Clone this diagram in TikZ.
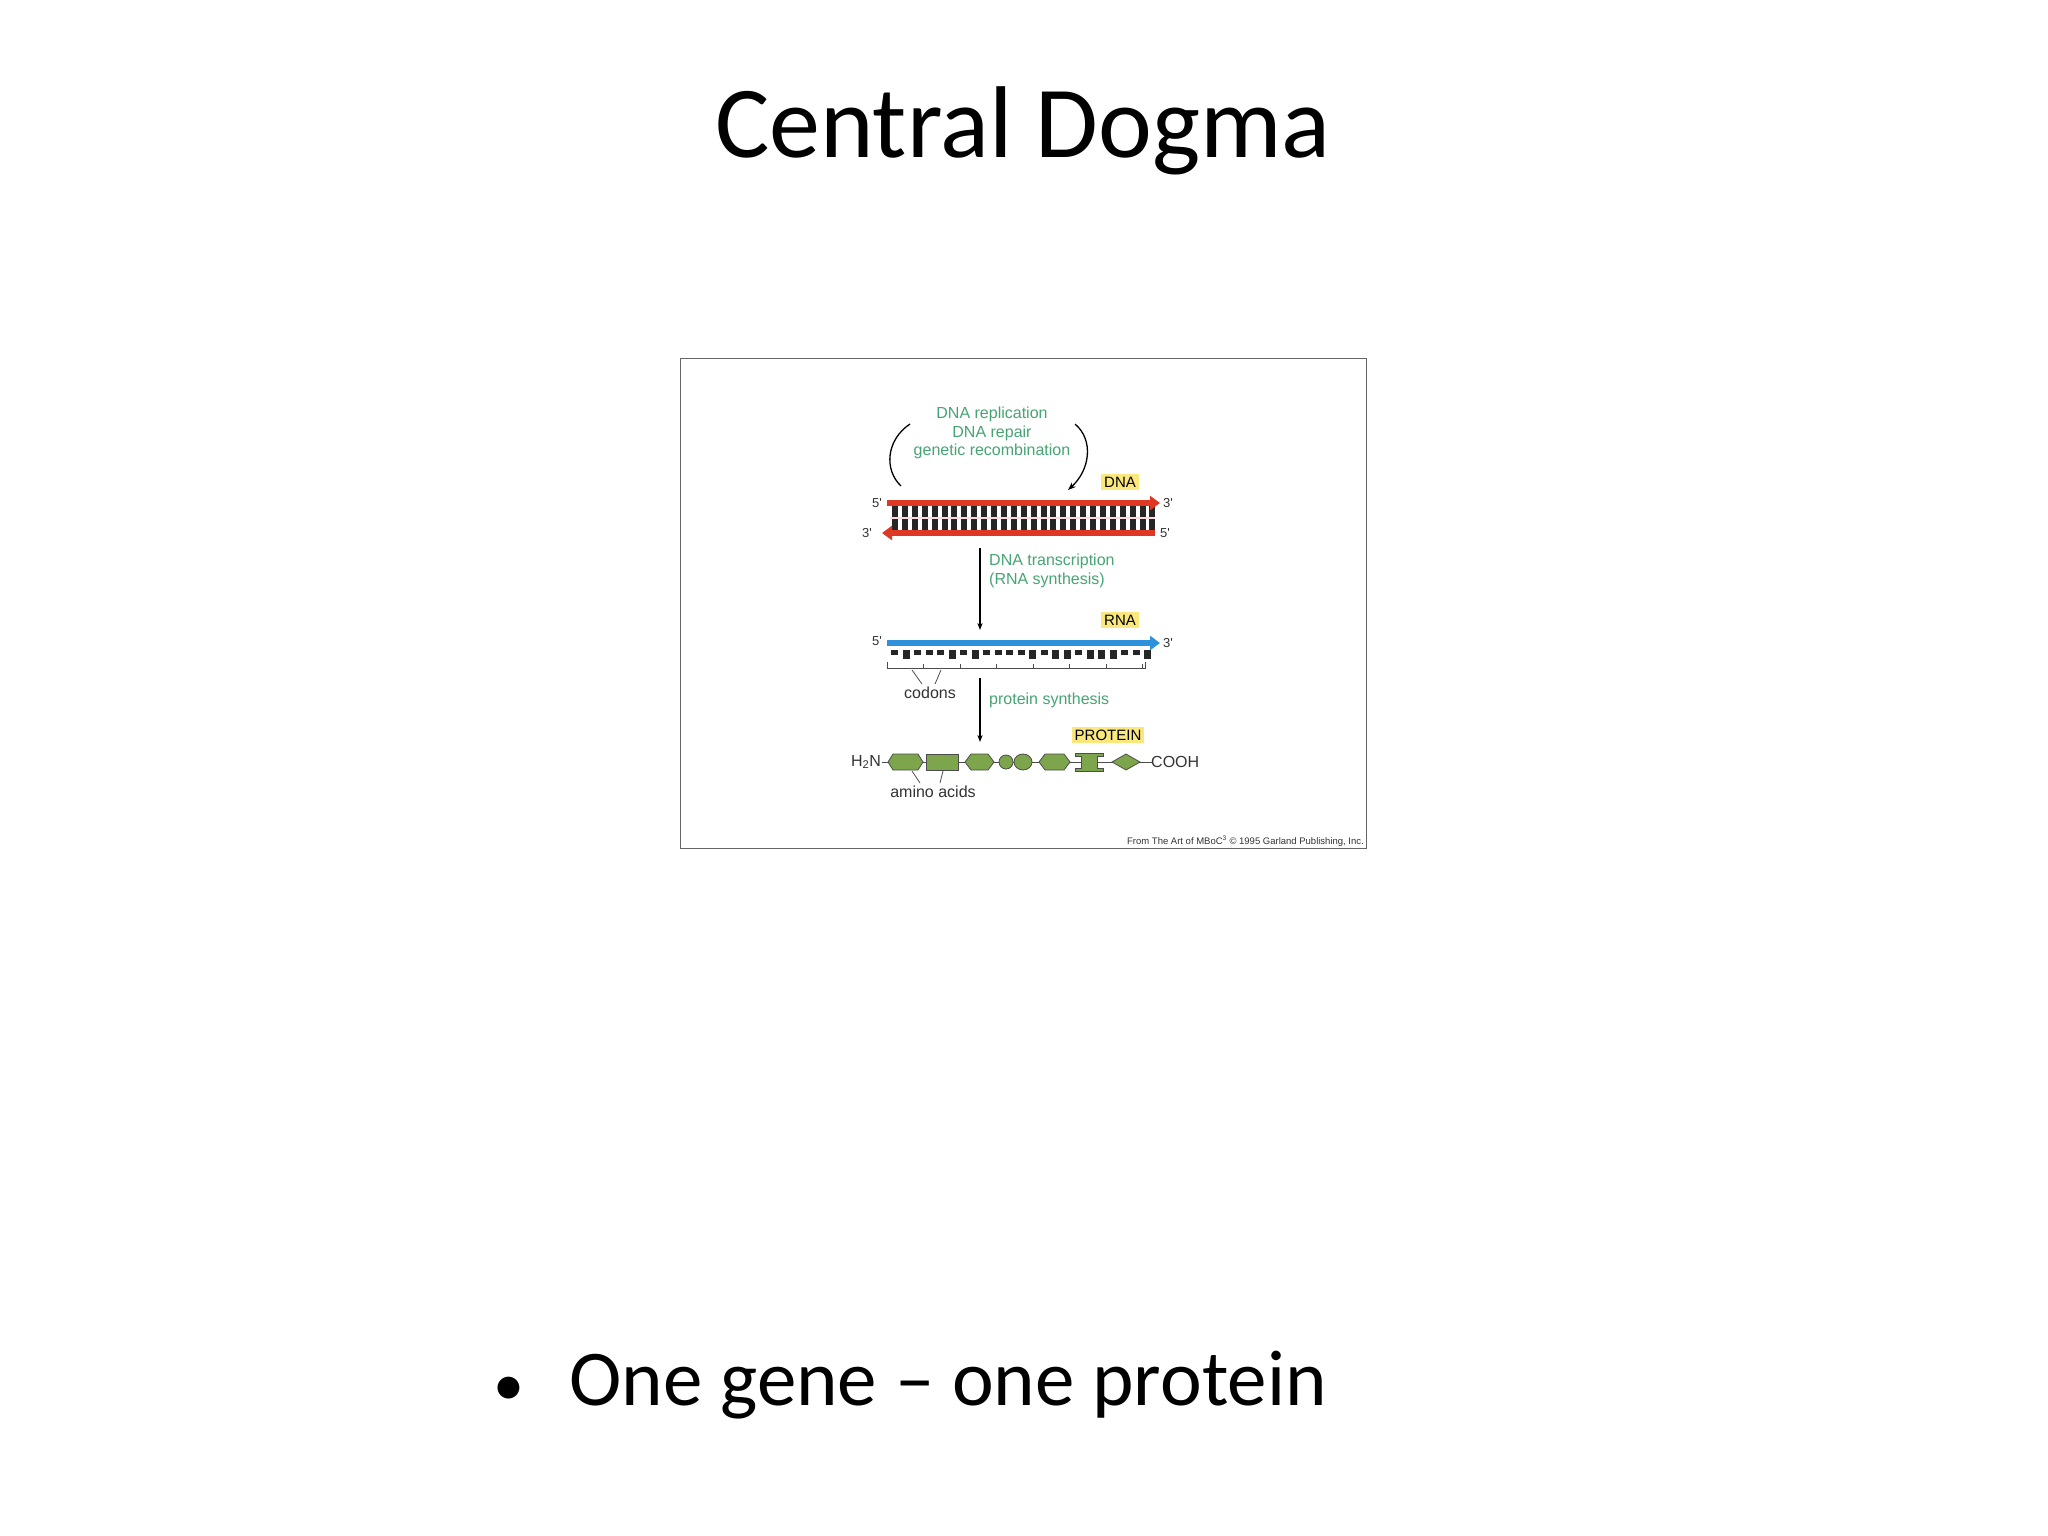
\documentclass[tikz,border=0pt]{standalone}
\usepackage{fontspec}
\setmainfont{Carlito}
\newfontfamily\figfont{Liberation Sans}
\usetikzlibrary{arrows.meta,shapes.geometric}
\definecolor{gtext}{RGB}{70,165,115}
\definecolor{dnared}{RGB}{222,55,35}
\definecolor{rnablue}{RGB}{45,145,220}
\definecolor{lab}{RGB}{250,232,125}
\definecolor{prot}{RGB}{125,165,75}
\tikzset{
 gt/.style={font=\figfont\fontsize{16}{18.5}\selectfont, text=gtext, inner sep=0pt, align=center},
 bt/.style={font=\figfont\fontsize{16}{18}\selectfont, text=black!80, inner sep=0pt},
 sm/.style={font=\figfont\fontsize{13}{15}\selectfont, text=black!80, inner sep=0pt},
 lbl/.style={font=\figfont\fontsize{15}{17}\selectfont, fill=lab, inner sep=3pt},
 aa/.style={fill=prot, draw=black!70, line width=0.8pt},
}
\begin{document}
\begin{tikzpicture}[x=1pt,y=-1pt]
\useasboundingbox (0,0) rectangle (2048,1536);
\fill[white] (0,0) rectangle (2048,1536);
\node[font=\fontsize{102}{114}\selectfont] (title) at (1023,131) {Central Dogma};
\node[draw=black!60, line width=1pt, minimum width=686, minimum height=490, inner sep=0pt] (frame) at (1023,603) {};
% DNA
\node[gt] (rep) at (992,433) {DNA replication\\DNA repair\\genetic recombination};
\coordinate (l1) at (901,486); \coordinate (l2) at (910,424);
\coordinate (r1) at (1075,424); \coordinate (r2) at (1068,490);
\draw[line width=1.3pt] (l1) .. controls (884,470) and (886,440) .. (l2);
\draw[line width=1.3pt,-{Stealth[length=8pt]}] (r1) .. controls (1094,440) and (1090,470) .. (r2);
\node[lbl] (dnal) at (1120,482) {DNA};
\foreach \i in {0,...,26}{
  \fill[black!85] (892+\i*9.9,505) rectangle (898+\i*9.9,517);
  \fill[black!85] (892+\i*9.9,519) rectangle (898+\i*9.9,531);
}
\fill[white!85!red] (890,517) rectangle (1155,519);
\coordinate (ts) at (887,503); \coordinate (te) at (1160,503);
\coordinate (bs) at (1155,533); \coordinate (be) at (882,533);
\draw[dnared,line width=6pt,-{Triangle[length=10pt,width=14pt]}] (ts) -- (te);
\draw[dnared,line width=6pt,-{Triangle[length=10pt,width=14pt]}] (bs) -- (be);
\node[sm] (d5a) at (877,503) {5'};
\node[sm] (d3a) at (1168,503) {3'};
\node[sm] (d3b) at (867,533) {3'};
\node[sm] (d5b) at (1165,533) {5'};
% transcription
\coordinate (a1s) at (980,548); \coordinate (a1e) at (980,630);
\draw[line width=1.2pt,-{Stealth[length=7pt]}] (a1s) -- (a1e);
\node[gt,align=left,anchor=west] (trans) at (989,571) {DNA transcription\\(RNA synthesis)};
\node[lbl] (rnal) at (1120,620) {RNA};
\coordinate (rs) at (887,643); \coordinate (re) at (1160,643);
\draw[rnablue,line width=6pt,-{Triangle[length=10pt,width=14pt]}] (rs) -- (re);
\node[sm] (r5) at (877,641) {5'};
\node[sm] (r3) at (1168,643) {3'};
\foreach \i/\h in {0/5,1/9,2/5,3/5,4/5,5/9,6/5,7/9,8/5,9/5,10/5,11/5,12/9,13/5,14/9,15/9,16/5,17/9,18/9,19/9,20/5,21/5,22/9}{
  \fill[black!85] (891+\i*11.5,650) rectangle (898+\i*11.5,650+\h);
}
\draw[black!70,line width=0.8pt] (887,662) -- (887,668) -- (1145,668) -- (1145,662);
\foreach \k in {1,...,7}{\draw[black!70,line width=0.8pt] (887+\k*36.5,664) -- (887+\k*36.5,668);}
\node[bt] (cod) at (930,693) {codons};
\draw[black!70,line width=0.8pt] (912,670) -- (922,684);
\draw[black!70,line width=0.8pt] (941,670) -- (935,684);
% protein synthesis
\coordinate (a2s) at (980,678); \coordinate (a2e) at (980,742);
\draw[line width=1.2pt,-{Stealth[length=7pt]}] (a2s) -- (a2e);
\node[gt,anchor=west] (psyn) at (989,700) {protein synthesis};
\node[lbl] (protl) at (1108,735) {PROTEIN};
\node[bt] (h2n) at (866,762) {H\textsubscript{2}N};
\node[bt,anchor=west] (cooh) at (1151,762) {COOH};
\coordinate (c1) at (882,762); \coordinate (c2) at (1152,762);
\draw[black!70,line width=1pt] (c1) -- (c2);
\draw[aa] (888,762) -- (893,754) -- (918,754) -- (923,762) -- (918,770) -- (893,770) -- cycle;
\draw[aa] (926,754) rectangle (958,770);
\draw[aa] (965,762) -- (971,754) -- (988,754) -- (994,762) -- (988,770) -- (971,770) -- cycle;
\draw[aa] (1006,762) ellipse (7 and 7); \draw[aa] (1023,762) ellipse (9 and 8);
\draw[aa] (1039,762) -- (1045,754) -- (1064,754) -- (1070,762) -- (1064,770) -- (1045,770) -- cycle;
\draw[aa] (1075,753) -- (1103,753) -- (1103,756) -- (1097,756) -- (1097,768) -- (1103,768) -- (1103,771) -- (1075,771) -- (1075,768) -- (1081,768) -- (1081,756) -- (1075,756) -- cycle;
\draw[aa] (1112,762) -- (1126,754) -- (1140,762) -- (1126,770) -- cycle;
\node[bt] (amino) at (933,792) {amino acids};
\draw[black!70,line width=0.8pt] (912,771) -- (920,783);
\draw[black!70,line width=0.8pt] (943,771) -- (940,783);
\node[sm,font=\figfont\fontsize{9.5}{11}\selectfont,anchor=east] (cred) at (1364,841) {From The Art of MBoC\textsuperscript{3} © 1995 Garland Publishing, Inc.};
% bullet
\node[font=\fontsize{62}{70}\selectfont,anchor=base west] (bul) at (490,1405) {•};
\node[font=\fontsize{79}{90}\selectfont,anchor=base west] (txt) at (566,1405) {One gene – one protein};
\end{tikzpicture}
\end{document}
